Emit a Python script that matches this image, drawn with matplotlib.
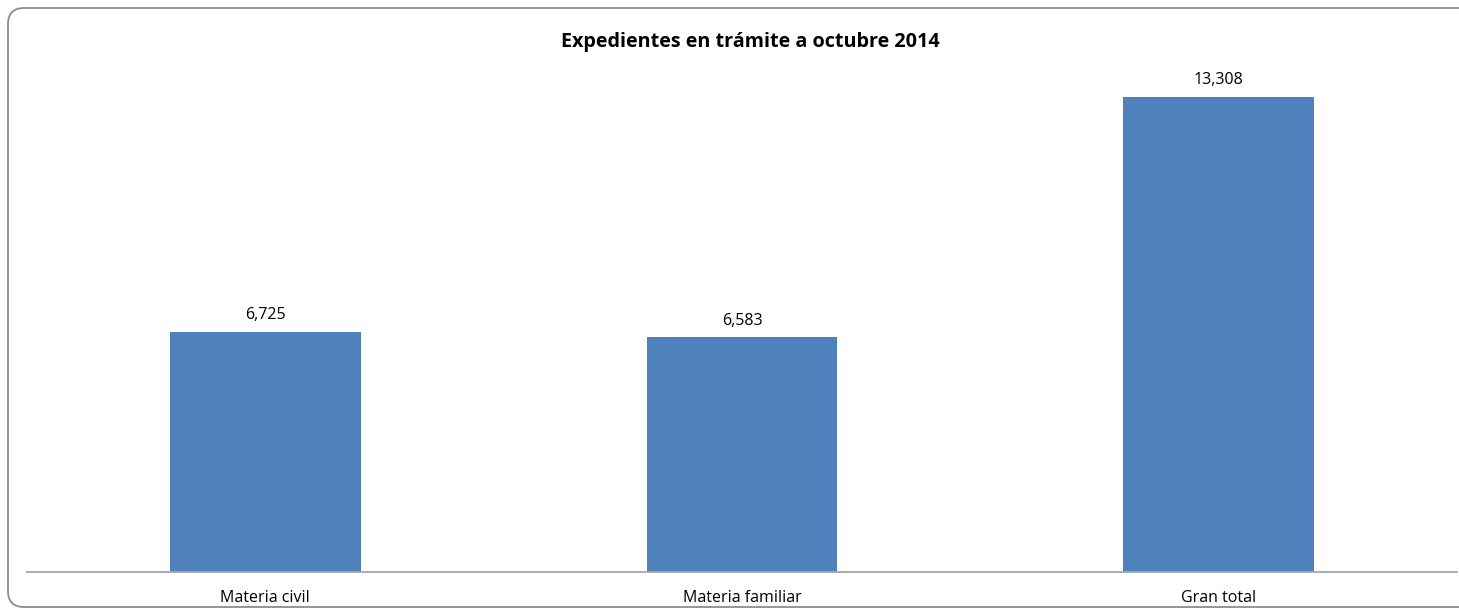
import matplotlib
matplotlib.use("Agg")
import matplotlib.pyplot as plt
from matplotlib.patches import FancyBboxPatch

categories = ["Materia civil", "Materia familiar", "Gran total"]
values = [6725, 6583, 13308]
labels = ["6,725", "6,583", "13,308"]

plt.rcParams['font.family'] = ['Open Sans', 'DejaVu Sans']

W, H = 1459, 615
fig = plt.figure(figsize=(W / 100, H / 100), dpi=100)

# rounded border (cropped on the right)
border = FancyBboxPatch((8 / W, 8 / H), (W + 40) / W, (H - 16) / H,
                        boxstyle="round,pad=0,rounding_size=0.011",
                        transform=fig.transFigure, fill=False,
                        edgecolor="#8c8c8c", linewidth=1.3,
                        mutation_aspect=W / H)
fig.patches.append(border)

ax = fig.add_axes([27 / W, (H - 572) / H, 1430 / W, 500 / H])
x = list(range(len(categories)))
ax.bar(x, values, width=0.4, color="#4F81BD", zorder=2)
ax.set_xlim(-0.5, len(categories) - 0.5)
ax.set_ylim(0, 14000)

for xi, v, lab in zip(x, values, labels):
    ax.annotate(lab, (xi, v), xytext=(0, 6), textcoords="offset points",
                ha="center", va="bottom", fontsize=11.5, color="#000000")

ax.set_xticks(x)
ax.set_xticklabels(categories, fontsize=11.5)
ax.tick_params(axis="x", length=0, pad=13)
ax.set_yticks([])
for s in ["top", "right", "left"]:
    ax.spines[s].set_visible(False)
ax.spines["bottom"].set_color("#a6a6a6")
ax.spines["bottom"].set_linewidth(1.3)
ax.patch.set_visible(False)

fig.text(750 / W, 1 - 42 / H, "Expedientes en trámite a octubre 2014",
         ha="center", va="center", fontsize=14.2, fontweight="bold")

fig.savefig("out.png", dpi=100)
